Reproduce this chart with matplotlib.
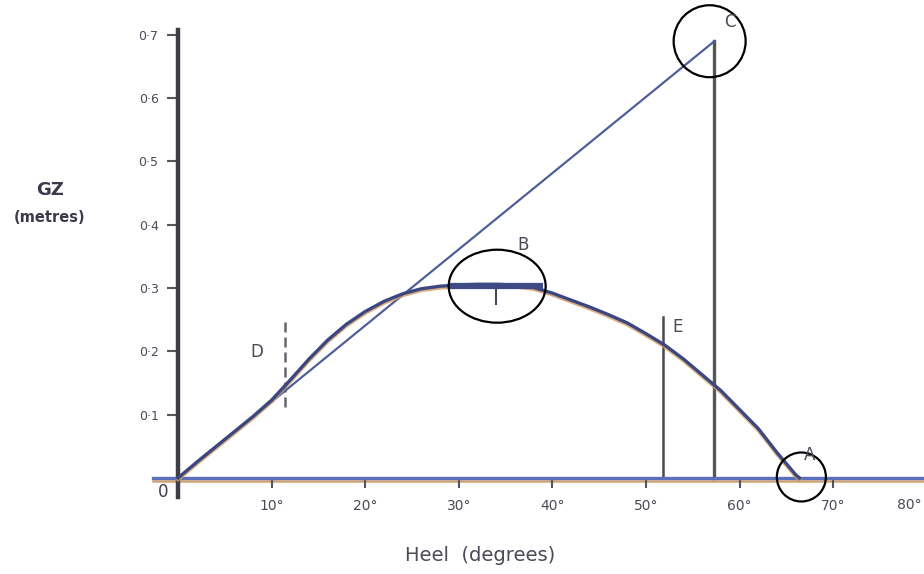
import numpy as np
import matplotlib
matplotlib.use("Agg")
import matplotlib.pyplot as plt
import matplotlib.transforms as mtransforms
from matplotlib.patches import Ellipse

# ---- data ----
heel_deg = [0, 2, 4, 6, 8, 10, 12, 14, 16, 18, 20, 22, 24, 26, 28, 30, 32, 34, 36, 38,
            40, 42, 44, 46, 48, 50, 52, 54, 56, 58, 60, 62, 64, 66, 66.4]
gz_m = [0, 0.025, 0.049, 0.073, 0.097, 0.123, 0.155, 0.188, 0.218, 0.243, 0.263, 0.279,
        0.291, 0.299, 0.303, 0.305, 0.306, 0.306, 0.305, 0.301, 0.292, 0.281, 0.270,
        0.258, 0.245, 0.228, 0.210, 0.188, 0.163, 0.138, 0.108, 0.078, 0.040, 0.005, 0.0]

gm_angle = 57.3      # 1 radian
gm_value = 0.69      # point C
tangent_x = [0, gm_angle]
tangent_y = [0, gm_value]

e_angle = 51.8
e_top = 0.254
d_angle = 11.4
d_range = [0.112, 0.254]
max_band = [29, 39]
max_gz = 0.303

xticks = [10, 20, 30, 40, 50, 60, 70]
yticks = [0.1, 0.2, 0.3, 0.4, 0.5, 0.6, 0.7]
ytick_labels = ["0·1", "0·2", "0·3", "0·4", "0·5", "0·6", "0·7"]

# pixel scale: 9.36 px per degree, 633 px per metre, origin at (178, 478)
W, H = 924, 574
fig = plt.figure(figsize=(W / 100, H / 100), dpi=100)
x0, x1 = -178 / 9.36, 80.6
y0, y1 = (478 - 574) / 633, 478 / 633
ax = fig.add_axes([0, 0, (x1 - x0) * 9.36 / W, 1])
ax.set_xlim(x0, x1)
ax.set_ylim(y0, y1)
ax.patch.set_alpha(0)

for s in ["top", "right"]:
    ax.spines[s].set_visible(False)
ax.spines["left"].set_position(("data", 0))
ax.spines["bottom"].set_position(("data", 0))
ax.spines["left"].set_bounds(-0.03, 0.708)
ax.spines["left"].set_color("#3d3d44")
ax.spines["left"].set_linewidth(3.2)
ax.spines["bottom"].set_bounds(-2.7, x1)
ax.spines["bottom"].set_color("#5b6fbf")
ax.spines["bottom"].set_linewidth(2.4)
ax.plot([-2.7, x1], [-0.0045, -0.0045], color="#d3a272", lw=1.8, zorder=1.5)

ax.set_xticks(xticks + [80])
ax.set_xticklabels([f"{v}°" for v in xticks] + [""], fontsize=10, color="#4a4a58")
ax.set_yticks(yticks)
ax.set_yticklabels(ytick_labels, fontsize=9, color="#4a4a58")
ax.tick_params(axis="x", direction="out", length=7, width=1.5, color="#555560", pad=8)
ax.tick_params(axis="y", direction="out", length=8, width=1.5, color="#555560", pad=6)
ax.text(-1.6, -0.022, "0", fontsize=12, color="#3a3a4a", ha="center", va="center")
# last heel label sits at the right edge of the picture
ax.text(x0 + 922 / 9.36, -0.043, "80°", fontsize=10, color="#4a4a58", ha="right", va="center")

# tangent (GM) line and GZ curve
ax.plot(tangent_x, tangent_y, color="#4f5f98", lw=1.6, zorder=3)
ax.plot(heel_deg, gz_m, color="#d39a62", lw=2.6, zorder=3.5, alpha=0.8,
        transform=ax.transData + mtransforms.ScaledTranslation(0, -1.2 / 72, fig.dpi_scale_trans))
ax.plot(heel_deg, gz_m, color="#3b4780", lw=2.4, zorder=4)
ax.plot(max_band, [max_gz, max_gz], color="#3d4a86", lw=4.5, zorder=4, solid_capstyle="butt")
ax.plot([34, 34], [0.297, 0.275], color="#4a4a55", lw=1.5, zorder=4)

# vertical lines
ax.plot([gm_angle, gm_angle], [0, gm_value], color="#55555c", lw=2.4, zorder=2)
ax.plot([e_angle, e_angle], [0, e_top], color="#4a4a50", lw=1.8, zorder=2)
ax.plot([d_angle, d_angle], d_range, color="#66666e", lw=1.8, zorder=2, ls=(0, (4, 2)))

# circles
circles = [((56.8, 0.690), 7.69, 0.1137), ((34.1, 0.303), 10.36, 0.1153), ((66.6, 0.0016), 5.24, 0.0774)]
for c, w, h in circles:
    ax.add_patch(Ellipse(c, w, h, fill=False, ec="black", lw=1.6, zorder=5))

# point labels
for txt, xx, yy in [("C", 59.0, 0.72), ("B", 36.9, 0.368), ("E", 53.4, 0.238),
                    ("A", 67.5, 0.036), ("D", 8.4, 0.199)]:
    ax.text(xx, yy, txt, fontsize=12, color="#4a4a58", ha="center", va="center", zorder=6)

# axis titles
ax.text(-13.7, 0.455, "GZ", fontsize=13, color="#3a3a4a", ha="center", va="center", fontweight="bold")
ax.text(-13.7, 0.411, "(metres)", fontsize=10.5, color="#3a3a4a", ha="center", va="center", fontweight="bold")
ax.text(32.3, -0.122, "Heel  (degrees)", fontsize=14, color="#4a4a58", ha="center", va="center")

fig.savefig("out.png", dpi=100)
